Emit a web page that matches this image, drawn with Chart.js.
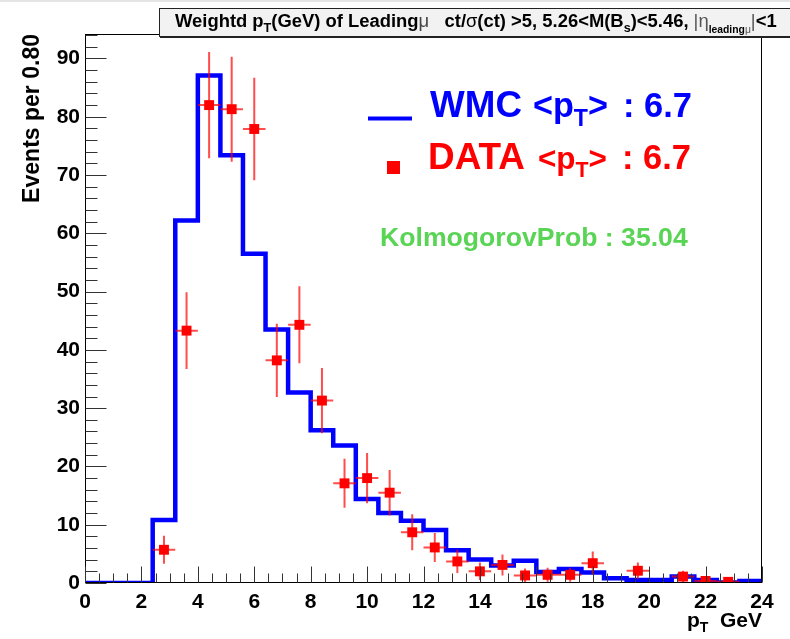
<!DOCTYPE html>
<html>
<head>
<meta charset="utf-8">
<script src="https://cdn.jsdelivr.net/npm/chart.js@4.4.1/dist/chart.umd.min.js"></script>
<style>
  html, body { margin: 0; padding: 0; background: #ffffff; }
  #c { display: block; }
</style>
</head>
<body>
<canvas id="c" width="790" height="639"></canvas>
<script>
// ---- data ----
const binEdges = [0, 0.8, 1.6, 2.4, 3.2, 4.0, 4.8, 5.6, 6.4, 7.2, 8.0, 8.8, 9.6, 10.4, 11.2, 12.0,
                  12.8, 13.6, 14.4, 15.2, 16.0, 16.8, 17.6, 18.4, 19.2, 20.0, 20.8, 21.6, 22.4, 23.2, 24.0];
const mcCounts = [0, 0, 0, 10.8, 62.2, 87.1, 73.4, 56.5, 43.5, 32.7, 26.2, 23.6, 14.4, 12.0, 10.7,
                  9.1, 5.6, 4.05, 3.0, 3.8, 1.9, 2.4, 1.8, 0.8, 0.5, 0.5, 1.1, 0.5, 0.1, 0.35];
const dataCenters = [2.8, 3.6, 4.4, 5.2, 6.0, 6.8, 7.6, 8.4, 9.2, 10.0, 10.8, 11.6, 12.4, 13.2,
                     14.0, 14.8, 15.6, 16.4, 17.2, 18.0, 19.6, 21.2, 22.0, 22.8];
const dataCounts = [5.7, 43.3, 82.0, 81.3, 77.9, 38.2, 44.3, 31.3, 17.1, 18.0, 15.5, 8.7, 6.1, 3.7,
                    2.0, 3.1, 1.3, 1.4, 1.4, 3.4, 2.1, 1.1, 0.35, 0.2];
const dataErrors = [2.4, 6.6, 9.1, 9.0, 8.8, 6.3, 6.6, 5.6, 4.2, 4.3, 3.9, 3.1, 2.5, 2.0,
                    1.5, 1.8, 1.2, 1.2, 1.2, 2.0, 1.4, 1.0, 0.6, 0.5];
const xTickValues = [0, 2, 4, 6, 8, 10, 12, 14, 16, 18, 20, 22, 24];
const yTickValues = [0, 10, 20, 30, 40, 50, 60, 70, 80, 90];
const mcMean = "6.7";
const dataMean = "6.7";
const ksProb = "35.04";

const FONT = "'Liberation Sans', Arial, Helvetica, sans-serif";
const BLUE = '#0000ff', RED = '#ff0000', GREEN = '#59d454';

const histPoints = mcCounts.map((v, i) => ({ x: binEdges[i], y: v }));
histPoints.push({ x: binEdges[binEdges.length - 1], y: mcCounts[mcCounts.length - 1] });
const dataPoints = dataCenters.map((c, i) => ({ x: c, y: dataCounts[i] }));

function richWidth(ctx, segs, k) {
  let w = 0;
  for (const s of segs) {
    ctx.font = `${s.w || 'bold'} ${s.size * k}px ${s.f || FONT}`;
    w += ctx.measureText(s.t).width;
  }
  return w;
}
function drawRich(ctx, x, y, segs, k, color) {
  ctx.textAlign = 'left';
  ctx.textBaseline = 'alphabetic';
  for (const s of segs) {
    ctx.font = `${s.w || 'bold'} ${s.size * k}px ${s.f || FONT}`;
    ctx.fillStyle = s.c || color;
    ctx.fillText(s.t, x, y + (s.dy || 0) * k);
    x += ctx.measureText(s.t).width;
  }
  return x;
}

const errorBars = {
  id: 'errorBars',
  beforeDatasetDraw(chart, args) {
    if (args.index !== 1) return;
    const ctx = chart.ctx, xs = chart.scales.x, ys = chart.scales.y;
    const half = (binEdges[1] - binEdges[0]) / 2;
    ctx.save();
    ctx.strokeStyle = 'rgba(255,0,0,0.7)';
    ctx.lineWidth = 2;
    dataCenters.forEach((c, i) => {
      const v = dataCounts[i], e = dataErrors[i];
      const px = xs.getPixelForValue(c), py = ys.getPixelForValue(v);
      ctx.beginPath();
      ctx.moveTo(px, ys.getPixelForValue(Math.max(0, v - e)));
      ctx.lineTo(px, ys.getPixelForValue(v + e));
      ctx.moveTo(xs.getPixelForValue(c - half), py);
      ctx.lineTo(xs.getPixelForValue(c + half), py);
      ctx.stroke();
    });
    ctx.restore();
  }
};

const decor = {
  id: 'decor',
  beforeDraw(chart) {
    const ctx = chart.ctx;
    ctx.save();
    ctx.fillStyle = '#ffffff';
    ctx.fillRect(0, 0, chart.width, chart.height);
    ctx.fillStyle = '#e4e4e4';
    ctx.fillRect(0, 0, chart.width, 2);
    ctx.restore();
  },
  afterDraw(chart) {
    const ctx = chart.ctx, a = chart.chartArea, xs = chart.scales.x, ys = chart.scales.y;
    ctx.save();
    // frame
    ctx.strokeStyle = '#000000';
    ctx.lineWidth = 1;
    const L = Math.round(a.left) + 0.5, R = Math.round(a.right) - 0.5;
    const T = Math.round(a.top) + 0.5, B = Math.round(a.bottom) - 0.5;
    ctx.strokeRect(L, T, R - L, B - T);
    // ticks
    ctx.strokeStyle = '#333333';
    ctx.beginPath();
    for (let v = 0; v <= ys.max + 1e-6; v += 2) {
      const py = Math.round(ys.getPixelForValue(v)) + 0.5;
      const len = (Math.abs(v % 10) < 1e-6) ? 21 : 12;
      ctx.moveTo(L, py); ctx.lineTo(L + len, py);
    }
    for (let v = 0; v <= 24 + 1e-6; v += 0.5) {
      const px = Math.round(xs.getPixelForValue(v)) + 0.5;
      const len = (Math.abs(v % 2) < 1e-6) ? 16 : 9;
      ctx.moveTo(px, B); ctx.lineTo(px, B - len);
    }
    ctx.stroke();

    // title box
    ctx.fillStyle = '#f2f2f2';
    ctx.fillRect(159, 8, 640, 29);
    ctx.strokeStyle = '#222222';
    ctx.lineWidth = 1;
    ctx.strokeRect(159.5, 8.5, 640, 28);
    ctx.lineWidth = 2;
    ctx.beginPath(); ctx.moveTo(160, 37); ctx.lineTo(790, 37); ctx.stroke();
    const titleSegs = [
      { t: 'Weightd p', size: 16 },
      { t: 'T', size: 11, dy: 4 },
      { t: '(GeV) of Leading', size: 16 },
      { t: 'μ', size: 16, w: 'normal', c: '#444' },
      { t: '   ct/', size: 16 },
      { t: 'σ', size: 16, w: 'normal' },
      { t: '(ct) >5, 5.26<M(B', size: 16 },
      { t: 's', size: 11, dy: 4 },
      { t: ')<5.46, ', size: 16 },
      { t: '|', size: 16, w: 'normal', c: '#555' },
      { t: 'η', size: 16, w: 'normal', c: '#555' },
      { t: 'leading', size: 9, dy: 5 },
      { t: 'μ', size: 9, dy: 5, w: 'normal', c: '#555' },
      { t: '|', size: 16, w: 'normal', c: '#555' },
      { t: '<1', size: 16 }
    ];
    const tk = 602 / richWidth(ctx, titleSegs, 1);
    drawRich(ctx, 175, 27, titleSegs, tk, '#000000');

    // y axis title
    ctx.save();
    ctx.translate(39, 34);
    ctx.rotate(-Math.PI / 2);
    ctx.font = `bold 20px ${FONT}`;
    const yt = 'Events per 0.80';
    const ytw = ctx.measureText(yt).width;
    ctx.font = `bold ${20 * 169 / ytw}px ${FONT}`;
    ctx.fillStyle = '#000';
    ctx.textAlign = 'right';
    ctx.textBaseline = 'alphabetic';
    ctx.fillText(yt, 0, 0);
    ctx.restore();

    // x axis title
    const xtSegs = [
      { t: 'p', size: 21 },
      { t: 'T', size: 14, dy: 5 },
      { t: '  GeV', size: 21 }
    ];
    const xtw = richWidth(ctx, xtSegs, 1);
    drawRich(ctx, 762 - xtw, 627, xtSegs, 1, '#000000');

    // legend
    ctx.strokeStyle = BLUE;
    ctx.lineWidth = 4;
    ctx.beginPath(); ctx.moveTo(368, 118.5); ctx.lineTo(412, 118.5); ctx.stroke();
    ctx.fillStyle = RED;
    ctx.fillRect(387, 161, 13, 13);

    const fitDraw = (segs, x0, x1, y, color) => {
      const k = (x1 - x0) / richWidth(ctx, segs, 1);
      drawRich(ctx, x0, y, segs, k, color);
    };
    fitDraw([{ t: 'WMC', size: 33 }], 430, 522, 117, BLUE);
    fitDraw([{ t: '<p', size: 28 }, { t: 'T', size: 19, dy: 7 }, { t: '>', size: 28 }], 533, 608, 117, BLUE);
    fitDraw([{ t: ': ' + mcMean, size: 33 }], 623, 692, 117, BLUE);
    fitDraw([{ t: 'DATA', size: 33 }], 428, 525, 169, RED);
    fitDraw([{ t: '<p', size: 28 }, { t: 'T', size: 19, dy: 7 }, { t: '>', size: 28 }], 538, 607, 169, RED);
    fitDraw([{ t: ': ' + dataMean, size: 33 }], 622, 691, 169, RED);
    fitDraw([{ t: 'KolmogorovProb : ' + ksProb, size: 23 }], 380, 688, 246, GREEN);
    ctx.restore();
  }
};

new Chart(document.getElementById('c'), {
  data: {
    datasets: [
      {
        type: 'line',
        label: 'WMC',
        data: histPoints,
        stepped: 'before',
        borderColor: BLUE,
        borderWidth: 4.5,
        pointRadius: 0,
        fill: false,
        order: 2
      },
      {
        type: 'scatter',
        label: 'DATA',
        data: dataPoints,
        pointStyle: 'rect',
        pointRadius: 7,
        pointHoverRadius: 7,
        backgroundColor: RED,
        borderWidth: 0,
        order: 1
      }
    ]
  },
  options: {
    responsive: false,
    animation: false,
    devicePixelRatio: 1,
    layout: { padding: { top: 34, right: 28, left: 0, bottom: 0 } },
    plugins: { legend: { display: false }, tooltip: { enabled: false }, title: { display: false } },
    scales: {
      x: {
        type: 'linear', min: 0, max: 24,
        grid: { display: false, drawTicks: false },
        border: { display: false },
        afterBuildTicks(s) { s.ticks = xTickValues.map(v => ({ value: v })); },
        ticks: { stepSize: 2, autoSkip: false, maxRotation: 0, padding: 7,
                 color: '#000', font: { family: FONT, size: 21, weight: 'bold' } },
        afterFit(s) { s.height = 56; }
      },
      y: {
        type: 'linear', min: 0, max: 94.2,
        grid: { display: false, drawTicks: false },
        border: { display: false },
        afterBuildTicks(s) { s.ticks = yTickValues.map(v => ({ value: v })); },
        ticks: { stepSize: 10, includeBounds: false, padding: 5,
                 color: '#000', font: { family: FONT, size: 21, weight: 'bold' } },
        afterFit(s) { s.width = 85; }
      }
    }
  },
  plugins: [decor, errorBars]
});
</script>
</body>
</html>
